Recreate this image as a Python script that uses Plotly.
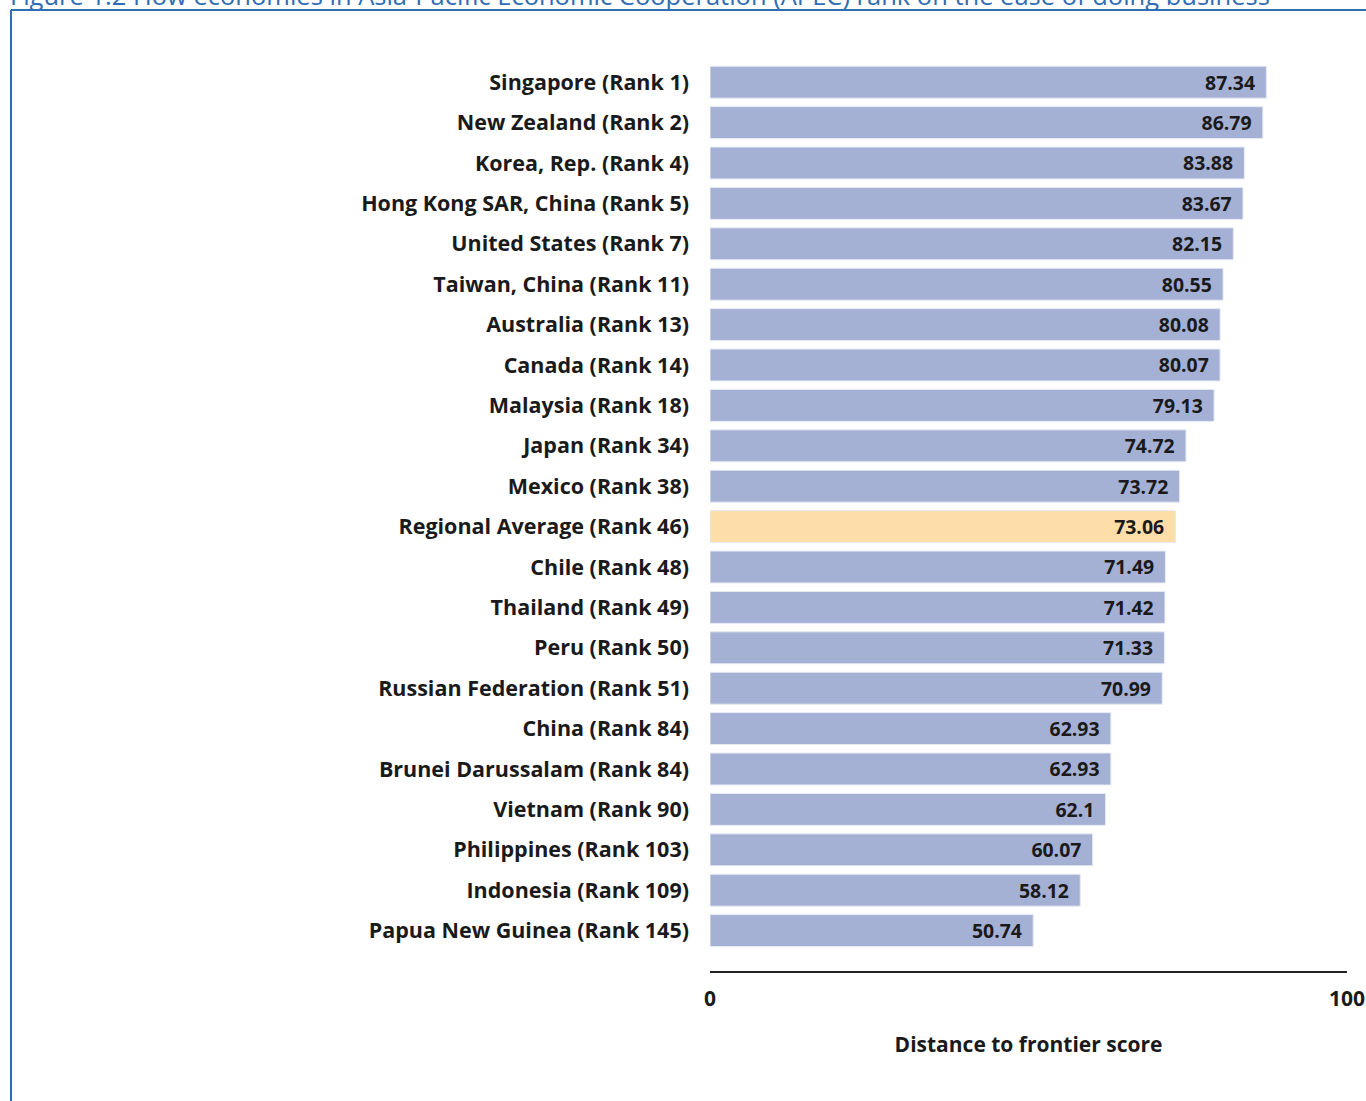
import plotly.graph_objects as go

economies = [
    "Singapore (Rank 1)", "New Zealand (Rank 2)", "Korea, Rep. (Rank 4)",
    "Hong Kong SAR, China (Rank 5)", "United States (Rank 7)", "Taiwan, China (Rank 11)",
    "Australia (Rank 13)", "Canada (Rank 14)", "Malaysia (Rank 18)", "Japan (Rank 34)",
    "Mexico (Rank 38)", "Regional Average (Rank 46)", "Chile (Rank 48)",
    "Thailand (Rank 49)", "Peru (Rank 50)", "Russian Federation (Rank 51)",
    "China (Rank 84)", "Brunei Darussalam (Rank 84)", "Vietnam (Rank 90)",
    "Philippines (Rank 103)", "Indonesia (Rank 109)", "Papua New Guinea (Rank 145)",
]
scores = [87.34, 86.79, 83.88, 83.67, 82.15, 80.55, 80.08, 80.07, 79.13, 74.72,
          73.72, 73.06, 71.49, 71.42, 71.33, 70.99, 62.93, 62.93, 62.1, 60.07,
          58.12, 50.74]
score_labels = ["87.34", "86.79", "83.88", "83.67", "82.15", "80.55", "80.08", "80.07",
                "79.13", "74.72", "73.72", "73.06", "71.49", "71.42", "71.33", "70.99",
                "62.93", "62.93", "62.1", "60.07", "58.12", "50.74"]
x_ticks = [0, 100]
x_tick_labels = ["0", "100"]
title_text = ("Figure 1.2 How economies in Asia-Pacific Economic Cooperation (APEC) "
              "rank on the ease of doing business")
x_title = "Distance to frontier score"

BAR = "#A4B0D4"
AVG = "#FDDDA8"
colors = [AVG if e.startswith("Regional Average") else BAR for e in economies]
FONT = "Open Sans"
TXT = "#1a1a1a"
FS = 21.5

fig = go.Figure(go.Bar(
    x=scores, y=economies, orientation="h",
    marker=dict(color=colors, line=dict(color="#e6eaf4", width=1)),
    text=[s + "\u00a0\u2009" for s in score_labels],
    textposition="inside", insidetextanchor="end",
    textfont=dict(family=FONT, size=21, color=TXT, weight="bold"),
    cliponaxis=False, hoverinfo="skip",
))

fig.update_layout(
    width=1366, height=1101, autosize=False,
    margin=dict(l=710, r=19, t=62, b=130, autoexpand=False),
    paper_bgcolor="white", plot_bgcolor="white",
    showlegend=False, bargap=0.21,
    font=dict(family=FONT, color=TXT),
)
fig.update_yaxes(
    type="category", categoryorder="array", categoryarray=economies,
    range=[22.0, -0.5], showgrid=False, zeroline=False, showline=False,
    ticks="", ticklabelstandoff=20, automargin=False,
    tickfont=dict(family=FONT, size=FS, color=TXT, weight="bold"),
)
fig.update_xaxes(
    range=[0, 100], tickvals=x_ticks, ticktext=x_tick_labels,
    showgrid=False, zeroline=False, showline=True, linecolor="#222", linewidth=2,
    ticks="", ticklabelstandoff=8, automargin=False,
    tickfont=dict(family=FONT, size=21, color=TXT, weight="bold"),
    title=dict(text=x_title, standoff=26,
               font=dict(family=FONT, size=21, color=TXT, weight="bold")),
)

# frame of the cropped document figure
fig.add_shape(type="line", xref="paper", yref="paper",
              x0=(11 - 710) / 637, x1=(1366 - 710) / 637,
              y0=(971 - 10) / 909, y1=(971 - 10) / 909,
              line=dict(color="#2F6DB5", width=2))
fig.add_shape(type="line", xref="paper", yref="paper",
              x0=(11 - 710) / 637, x1=(11 - 710) / 637,
              y0=(971 - 10) / 909, y1=(971 - 1110) / 909,
              line=dict(color="#2F6DB5", width=2))
fig.add_annotation(text=title_text, xref="paper", yref="paper",
                   x=(8 - 710) / 637, y=(971 - 14) / 909,
                   xanchor="left", yanchor="bottom", showarrow=False,
                   font=dict(family="Open Sans", size=25.5, color="#2F6DB5"))

fig.write_html(
    "out.html",
    config={"displayModeBar": False},
    post_script=(
        "document.body.style.margin='0';"
        "document.body.style.overflow='hidden';"
        "var gd=document.getElementById('{plot_id}');"
        "Plotly.relayout(gd,{width:1366,height:1101});"
    ),
)
